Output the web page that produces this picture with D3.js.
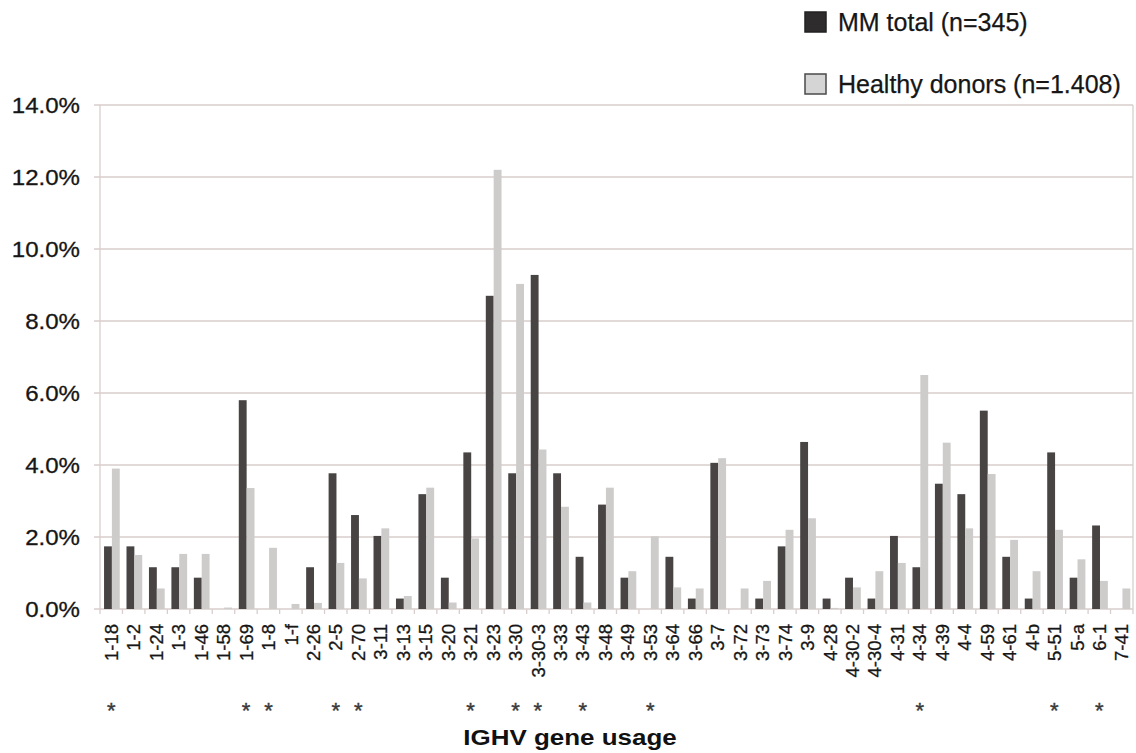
<!DOCTYPE html>
<html>
<head>
<meta charset="utf-8">
<script src="https://cdn.jsdelivr.net/npm/d3@7"></script>
<style>
  body { margin: 0; background: #fff; }
  svg { font-family: "Liberation Sans", Arial, sans-serif; }
</style>
</head>
<body>
<svg width="1136" height="753"></svg>
<script>
const genes = ["1-18", "1-2", "1-24", "1-3", "1-46", "1-58", "1-69", "1-8", "1-f", "2-26", "2-5", "2-70",
  "3-11", "3-13", "3-15", "3-20", "3-21", "3-23", "3-30", "3-30-3", "3-33", "3-43", "3-48", "3-49", "3-53",
  "3-64", "3-66", "3-7", "3-72", "3-73", "3-74", "3-9", "4-28", "4-30-2", "4-30-4", "4-31", "4-34", "4-39",
  "4-4", "4-59", "4-61", "4-b", "5-51", "5-a", "6-1", "7-41"];
const mmTotal = [1.74, 1.74, 1.16, 1.16, 0.87, 0, 5.80, 0, 0, 1.16, 3.77, 2.61,
  2.03, 0.29, 3.19, 0.87, 4.35, 8.70, 3.77, 9.28, 3.77, 1.45, 2.90, 0.87, 0,
  1.45, 0.29, 4.06, 0, 0.29, 1.74, 4.64, 0.29, 0.87, 0.29, 2.03, 1.16, 3.48,
  3.19, 5.51, 1.45, 0.29, 4.35, 0.87, 2.32, 0];
const healthy = [3.90, 1.50, 0.57, 1.53, 1.53, 0.04, 3.36, 1.70, 0.14, 0.17, 1.28, 0.85,
  2.24, 0.36, 3.37, 0.18, 1.96, 12.2, 9.03, 4.43, 2.84, 0.18, 3.37, 1.05, 2.02,
  0.60, 0.57, 4.19, 0.57, 0.78, 2.20, 2.52, 0.03, 0.60, 1.05, 1.28, 6.50, 4.62,
  2.24, 3.75, 1.92, 1.05, 2.20, 1.38, 0.78, 0.57];
const starred = ["1-18", "1-69", "1-8", "2-5", "2-70", "3-21", "3-30", "3-30-3", "3-43", "3-53", "4-34", "5-51", "6-1"];
const yTicks = [0, 2, 4, 6, 8, 10, 12, 14];
const seriesNames = ["MM total (n=345)", "Healthy donors (n=1.408)"];

const svg = d3.select("svg");
const plotLeft = 100, plotRight = 1133, plotTop = 105, plotBottom = 609;
const gridColor = "#d8cecd";
const darkColor = "#474443";
const lightColor = "#cecbcb";
const textColor = "#161616";

const x = d3.scaleBand().domain(genes).range([plotLeft, plotRight]);
const y = d3.scaleLinear().domain([0, 14]).range([plotBottom, plotTop]);
const bw = x.bandwidth();
const barW = bw * 0.35;
const offset = bw * 0.18;

// gridlines (they also make the small y ticks left of the axis)
svg.append("g")
  .selectAll("line")
  .data(yTicks)
  .join("line")
  .attr("x1", plotLeft - 6)
  .attr("x2", plotRight)
  .attr("y1", d => y(d))
  .attr("y2", d => y(d))
  .attr("stroke", gridColor)
  .attr("stroke-width", 1.3);

// y axis and right frame
svg.append("line").attr("x1", plotLeft).attr("x2", plotLeft).attr("y1", plotTop).attr("y2", plotBottom)
  .attr("stroke", gridColor).attr("stroke-width", 1.3);
svg.append("line").attr("x1", plotRight).attr("x2", plotRight).attr("y1", plotTop).attr("y2", plotBottom)
  .attr("stroke", gridColor).attr("stroke-width", 1.3);

// y labels, slightly widened like the scanned figure
svg.append("g")
  .selectAll("text")
  .data(yTicks)
  .join("text")
  .attr("transform", d => `translate(80,${y(d)}) scale(1.12,1)`)
  .attr("dy", "0.36em")
  .attr("text-anchor", "end")
  .attr("font-size", "21.5px")
  .attr("fill", textColor)
  .attr("stroke", textColor)
  .attr("stroke-width", 0.3)
  .text(d => d.toFixed(1) + "%");

// x ticks at band edges
svg.append("g")
  .selectAll("line")
  .data(genes.concat(["end"]))
  .join("line")
  .attr("x1", (d, i) => plotLeft + i * bw)
  .attr("x2", (d, i) => plotLeft + i * bw)
  .attr("y1", plotBottom)
  .attr("y2", plotBottom + 5)
  .attr("stroke", gridColor)
  .attr("stroke-width", 1.3);

// bars
const groups = svg.append("g")
  .selectAll("g")
  .data(genes)
  .join("g")
  .attr("transform", d => `translate(${x(d) + offset},0)`);

groups.append("rect")
  .attr("x", 0)
  .attr("width", barW)
  .attr("y", (d, i) => y(mmTotal[i]))
  .attr("height", (d, i) => plotBottom - y(mmTotal[i]))
  .attr("fill", darkColor);

groups.append("rect")
  .attr("x", barW)
  .attr("width", barW)
  .attr("y", (d, i) => y(healthy[i]))
  .attr("height", (d, i) => plotBottom - y(healthy[i]))
  .attr("fill", lightColor);

// x labels
svg.append("g")
  .selectAll("text")
  .data(genes)
  .join("text")
  .attr("transform", d => `translate(${x(d) + bw / 2},624) rotate(-90)`)
  .attr("dy", "0.36em")
  .attr("text-anchor", "end")
  .attr("font-size", "18.5px")
  .attr("fill", textColor)
  .attr("stroke", textColor)
  .attr("stroke-width", 0.3)
  .text(d => d);

// significance stars
svg.append("g")
  .selectAll("text")
  .data(starred)
  .join("text")
  .attr("x", d => x(d) + bw / 2)
  .attr("y", 718)
  .attr("text-anchor", "middle")
  .attr("font-size", "22px")
  .attr("fill", "#3a3a3a")
  .attr("stroke", "#3a3a3a")
  .attr("stroke-width", 0.4)
  .text("*");

// axis title
svg.append("text")
  .attr("transform", "translate(570,745) scale(1.18,1)")
  .attr("text-anchor", "middle")
  .attr("font-size", "22px")
  .attr("font-weight", "bold")
  .attr("fill", "#111")
  .text("IGHV gene usage");

// legend
const legend = svg.append("g")
  .selectAll("g")
  .data(seriesNames)
  .join("g")
  .attr("transform", (d, i) => `translate(805,${12 + i * 62})`);

legend.append("rect")
  .attr("width", 21)
  .attr("height", 20)
  .attr("fill", (d, i) => i === 0 ? "#2e2c2c" : "#d6d5d5")
  .attr("stroke", (d, i) => i === 0 ? "#222" : "#4a4a4a")
  .attr("stroke-width", 1.5);

legend.append("text")
  .attr("x", 33)
  .attr("y", 19)
  .attr("font-size", "25px")
  .attr("fill", textColor)
  .attr("stroke", textColor)
  .attr("stroke-width", 0.25)
  .text(d => d);
</script>
</body>
</html>
